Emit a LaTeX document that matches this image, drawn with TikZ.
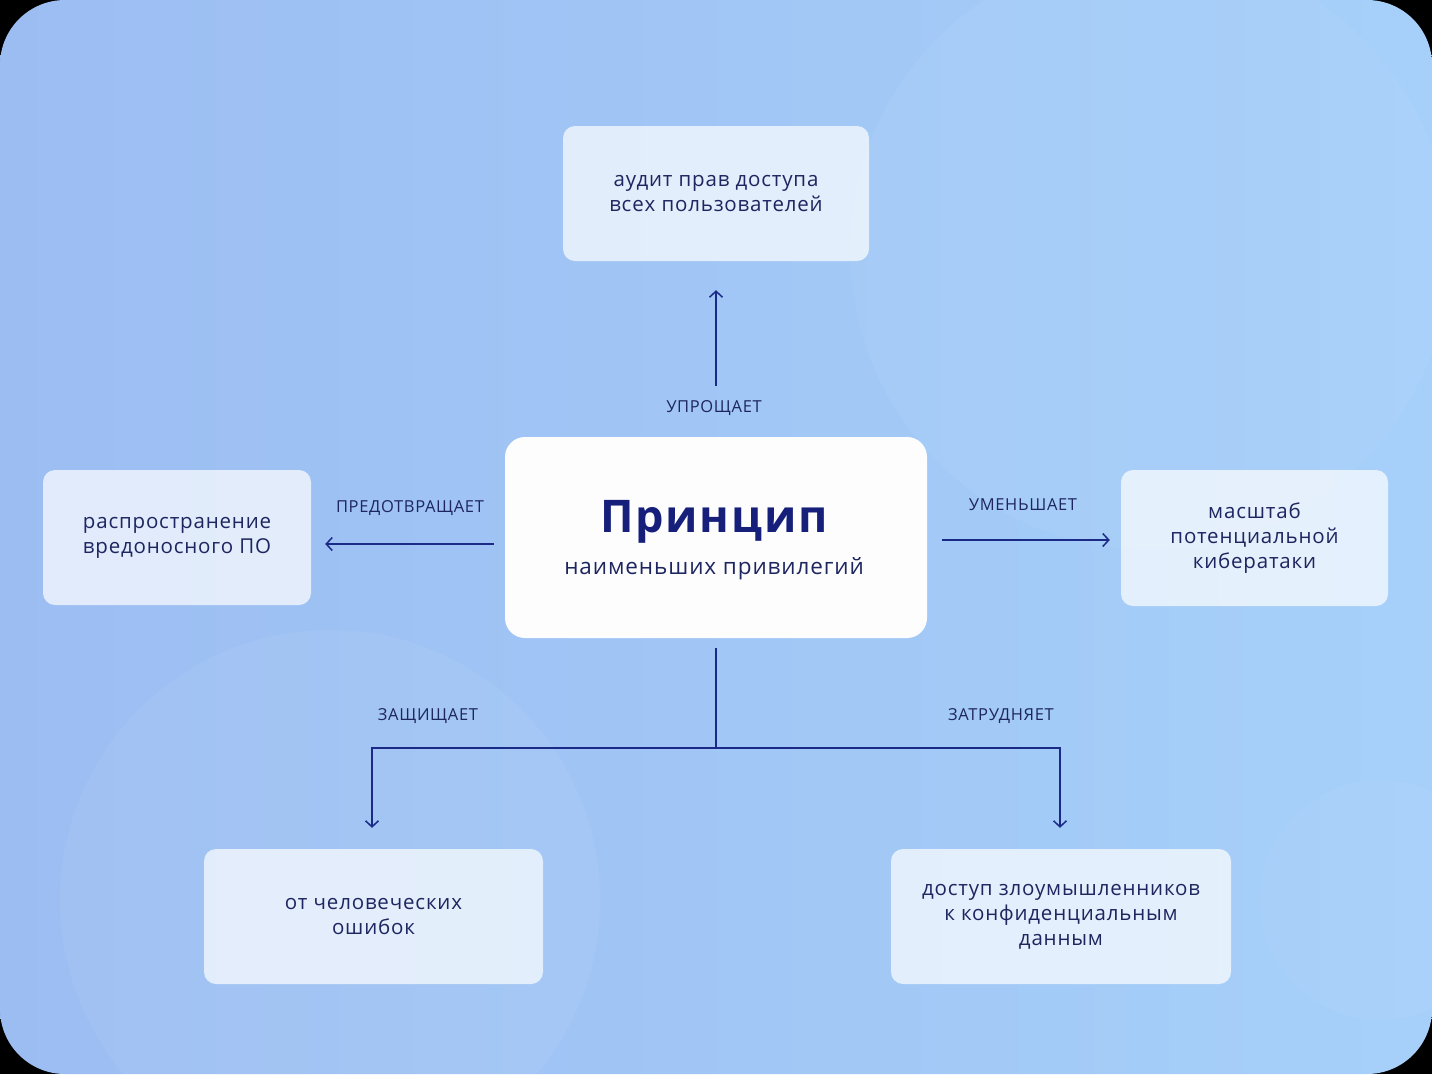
\documentclass[tikz,border=0pt]{standalone}
\usepackage{fontspec}
\setmainfont{Open Sans}[LetterSpace=4]
\usetikzlibrary{arrows.meta}
\definecolor{navy}{HTML}{1B2A86}
\definecolor{txt}{HTML}{1E2660}
\definecolor{ttl}{HTML}{16207A}
\definecolor{bgl}{HTML}{9CBDF2}
\definecolor{bgr}{HTML}{A6D0F9}
\begin{document}
\begin{tikzpicture}[x=1pt,y=-1pt,
  box/.style={rounded corners=12pt, fill=white, fill opacity=0.7, text opacity=1, text=txt,
    align=center, font=\fontsize{20.5}{25}\selectfont, inner sep=0pt},
  mainbox/.style={rounded corners=20pt, fill=white, fill opacity=0.98, inner sep=0pt},
  lbl/.style={text=txt, font=\fontsize{16.5}{20}\selectfont, inner sep=0pt},
  conn/.style={draw=navy, line width=1.5pt},
  arr/.style={conn, -{Straight Barb[length=6pt,width=13pt,line width=1.5pt]}}
]
\useasboundingbox (0,0) rectangle (1432,1074);
\fill[black] (0,0) rectangle (1432,1074);
\begin{scope}
\clip[rounded corners=65pt] (0,0) rectangle (1432,1074);
\shade[left color=bgl, right color=bgr] (0,0) rectangle (1432,1074);
\fill[white, opacity=0.05] (330,900) circle[radius=270pt];
\fill[white, opacity=0.04] (1150,250) circle[radius=300pt];
\fill[white, opacity=0.04] (1380,900) circle[radius=120pt];
\end{scope}
% boxes
\node[box, minimum width=306pt, minimum height=135pt] (top) at (716,193.5) {аудит прав доступа\\всех пользователей};
\node[box, minimum width=268pt, minimum height=135pt] (left) at (177,537.5) {распространение\\вредоносного ПО};
\node[box, minimum width=267pt, minimum height=136pt] (right) at (1254.5,538) {масштаб\\потенциальной\\кибератаки};
\node[box, minimum width=339pt, minimum height=135pt] (bl) at (373.5,916.5) {от человеческих\\ошибок};
\node[box, minimum width=340pt, minimum height=135pt] (br) at (1061,916.5) {доступ злоумышленников\\к конфиденциальным\\данным};
\node[mainbox, minimum width=422pt, minimum height=201pt] (c) at (716,537.5) {};
\node[text=ttl, font=\fontsize{45}{50}\selectfont\bfseries, inner sep=0pt] (ttl) at (714,522) {Принцип};
\node[text=txt, font=\fontsize{22.5}{26}\selectfont, inner sep=0pt] (sub) at (714,569) {наименьших привилегий};
% connectors
\draw[arr] ([yshift=51pt]c.north) -- ([yshift=-29pt]top.south);
\draw[arr] ([xshift=-11pt,yshift=-6.5pt]c.west) -- ([xshift=14pt,yshift=-6.5pt]left.east);
\draw[arr] ([xshift=15pt,yshift=-2.5pt]c.east) -- ([xshift=-11pt,yshift=-2pt]right.west);
\coordinate (j) at (716,748);
\draw[conn] ([yshift=-10pt]c.south) -- (j);
\draw[arr] (j) -| ([xshift=-1.5pt,yshift=21pt]bl.north);
\draw[arr] (j) -| ([xshift=-1pt,yshift=21pt]br.north);
% labels
\node[lbl] (l1) at (714,408) {УПРОЩАЕТ};
\node[lbl] (l2) at (410,508) {ПРЕДОТВРАЩАЕТ};
\node[lbl] (l3) at (1023,505) {УМЕНЬШАЕТ};
\node[lbl] (l4) at (428,716) {ЗАЩИЩАЕТ};
\node[lbl] (l5) at (1001,716) {ЗАТРУДНЯЕТ};
\end{tikzpicture}
\end{document}
